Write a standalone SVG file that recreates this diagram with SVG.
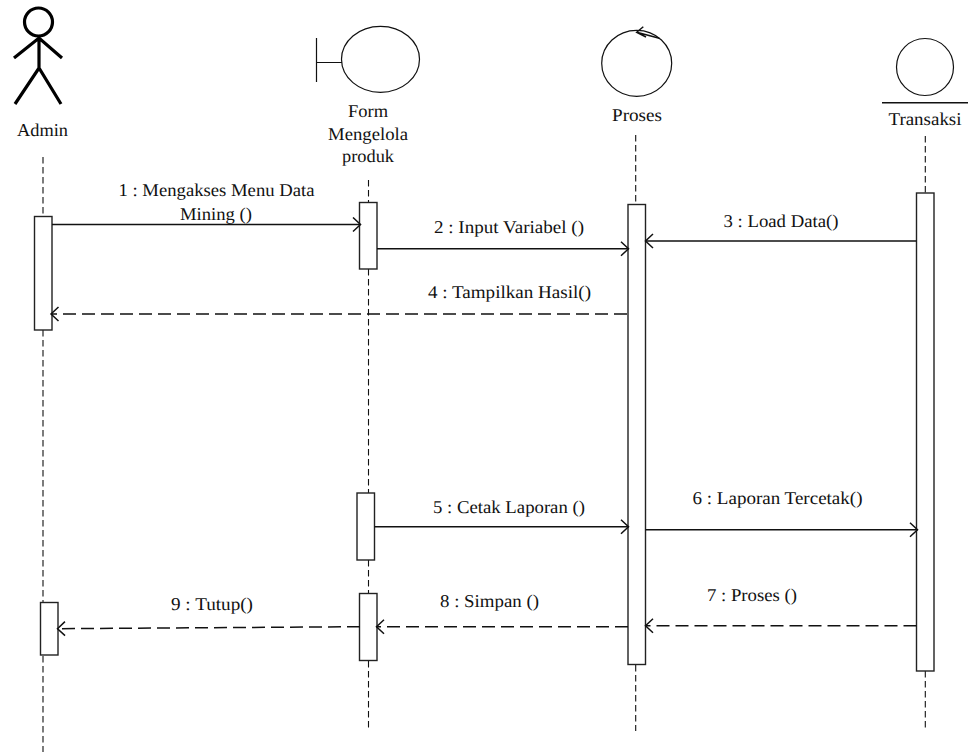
<svg xmlns="http://www.w3.org/2000/svg" width="973" height="752" viewBox="0 0 973 752">
<style>
text{font-family:"Liberation Serif","Times New Roman",serif;font-size:18px;fill:#111;text-rendering:geometricPrecision}
.c{text-anchor:middle}
.shape{fill:none;stroke:#111;stroke-width:1.2}
.act{fill:#fff;stroke:#222;stroke-width:1.4}
.life{fill:none;stroke:#111;stroke-width:1.1;stroke-dasharray:6.5 3.5}
.msg{fill:none;stroke:#111;stroke-width:1.5;marker-end:url(#arrow)}
.ret{stroke-dasharray:13 6}
.stick{fill:none;stroke:#000;stroke-width:3.2}
</style>
<defs>
<marker id="arrow" markerUnits="userSpaceOnUse" markerWidth="12" markerHeight="16" refX="9.5" refY="8" orient="auto">
<path d="M2 1L9.5 8L2 15" fill="none" stroke="#111" stroke-width="1.5"/>
</marker>
</defs>
<rect width="973" height="752" fill="#fff"/>
<g id="lifelines">
<path class="life" d="M43 157V216M43 330V603M43 656V752"/>
<path class="life" d="M368.500 180V202M368.500 269V493M368.500 560V593M368.500 661V731"/>
<path class="life" d="M635.700 135V204M635.700 665V731"/>
<path class="life" d="M925.300 136V193M925.300 671V731"/>
</g>
<g id="node-admin">
<circle class="stick" cx="38.500" cy="22" r="14"/>
<path class="stick" d="M39 37V68M14 58L39 38L62 58M15 104L39 68L61 104"/>
<text class="c" x="42.500" y="136" textLength="51" lengthAdjust="spacingAndGlyphs">Admin</text>
<rect class="act" x="34.500" y="216.500" width="17.500" height="113.500"/>
<rect class="act" x="40.500" y="602.500" width="17.500" height="52.500"/>
</g>
<g id="node-form">
<ellipse class="shape" cx="380.500" cy="59.300" rx="39" ry="33"/>
<path class="shape" d="M316.500 38V82M316.500 62.500H342"/>
<text class="c" x="368" y="117" textLength="40" lengthAdjust="spacingAndGlyphs">Form</text>
<text class="c" x="368" y="139.500" textLength="80" lengthAdjust="spacingAndGlyphs">Mengelola</text>
<text class="c" x="368" y="162" textLength="52" lengthAdjust="spacingAndGlyphs">produk</text>
<rect class="act" x="359.500" y="202.500" width="17.500" height="66.500"/>
<rect class="act" x="357" y="493" width="17.500" height="67"/>
<rect class="act" x="359.500" y="593.500" width="17.500" height="67"/>
</g>
<g id="node-proses">
<ellipse class="shape" cx="636.700" cy="63.300" rx="35" ry="33"/>
<path class="shape" style="stroke-width:1.5" d="M659.300 38.300L636.700 32.300M643.300 26.700L636.700 32.300L646 37"/>
<text class="c" x="637" y="121" textLength="50" lengthAdjust="spacingAndGlyphs">Proses</text>
<rect class="act" x="628" y="204.500" width="17.500" height="460"/>
</g>
<g id="node-transaksi">
<circle class="shape" cx="925" cy="67" r="28.500"/>
<path class="shape" style="stroke-width:1.5" d="M882 102.700H968"/>
<text class="c" x="925" y="125" textLength="73" lengthAdjust="spacingAndGlyphs">Transaksi</text>
<rect class="act" x="916.500" y="193" width="17.500" height="478"/>
</g>
<g id="connectors">
<path class="msg" d="M52 224.500H360.500"/>
<path class="msg" d="M377 248.700H628.500"/>
<path class="msg" d="M916.500 241H645.500"/>
<path class="msg ret" d="M627 314H51"/>
<path class="msg" d="M374.500 526.700H628.500"/>
<path class="msg" d="M645.500 529.700H917.500"/>
<path class="msg ret" d="M916.500 625.700H645.500"/>
<path class="msg ret" d="M628 626.700H376.500"/>
<path class="msg ret" d="M360 626.700L57.500 628.700"/>
</g>
<g id="labels">
<text x="118.500" y="195.500" textLength="196" lengthAdjust="spacingAndGlyphs">1 : Mengakses Menu Data</text>
<text x="180" y="219.500" textLength="72" lengthAdjust="spacingAndGlyphs">Mining ()</text>
<text x="434" y="233" textLength="150" lengthAdjust="spacingAndGlyphs">2 : Input Variabel ()</text>
<text x="723.500" y="227" textLength="115" lengthAdjust="spacingAndGlyphs">3 : Load Data()</text>
<text x="428" y="298" textLength="163" lengthAdjust="spacingAndGlyphs">4 : Tampilkan Hasil()</text>
<text x="433" y="513" textLength="152" lengthAdjust="spacingAndGlyphs">5 : Cetak Laporan ()</text>
<text x="692.500" y="504" textLength="170" lengthAdjust="spacingAndGlyphs">6 : Laporan Tercetak()</text>
<text x="707" y="601" textLength="90" lengthAdjust="spacingAndGlyphs">7 : Proses ()</text>
<text x="440" y="607" textLength="99" lengthAdjust="spacingAndGlyphs">8 : Simpan ()</text>
<text x="171" y="610" textLength="82" lengthAdjust="spacingAndGlyphs">9 : Tutup()</text>
</g>
</svg>
